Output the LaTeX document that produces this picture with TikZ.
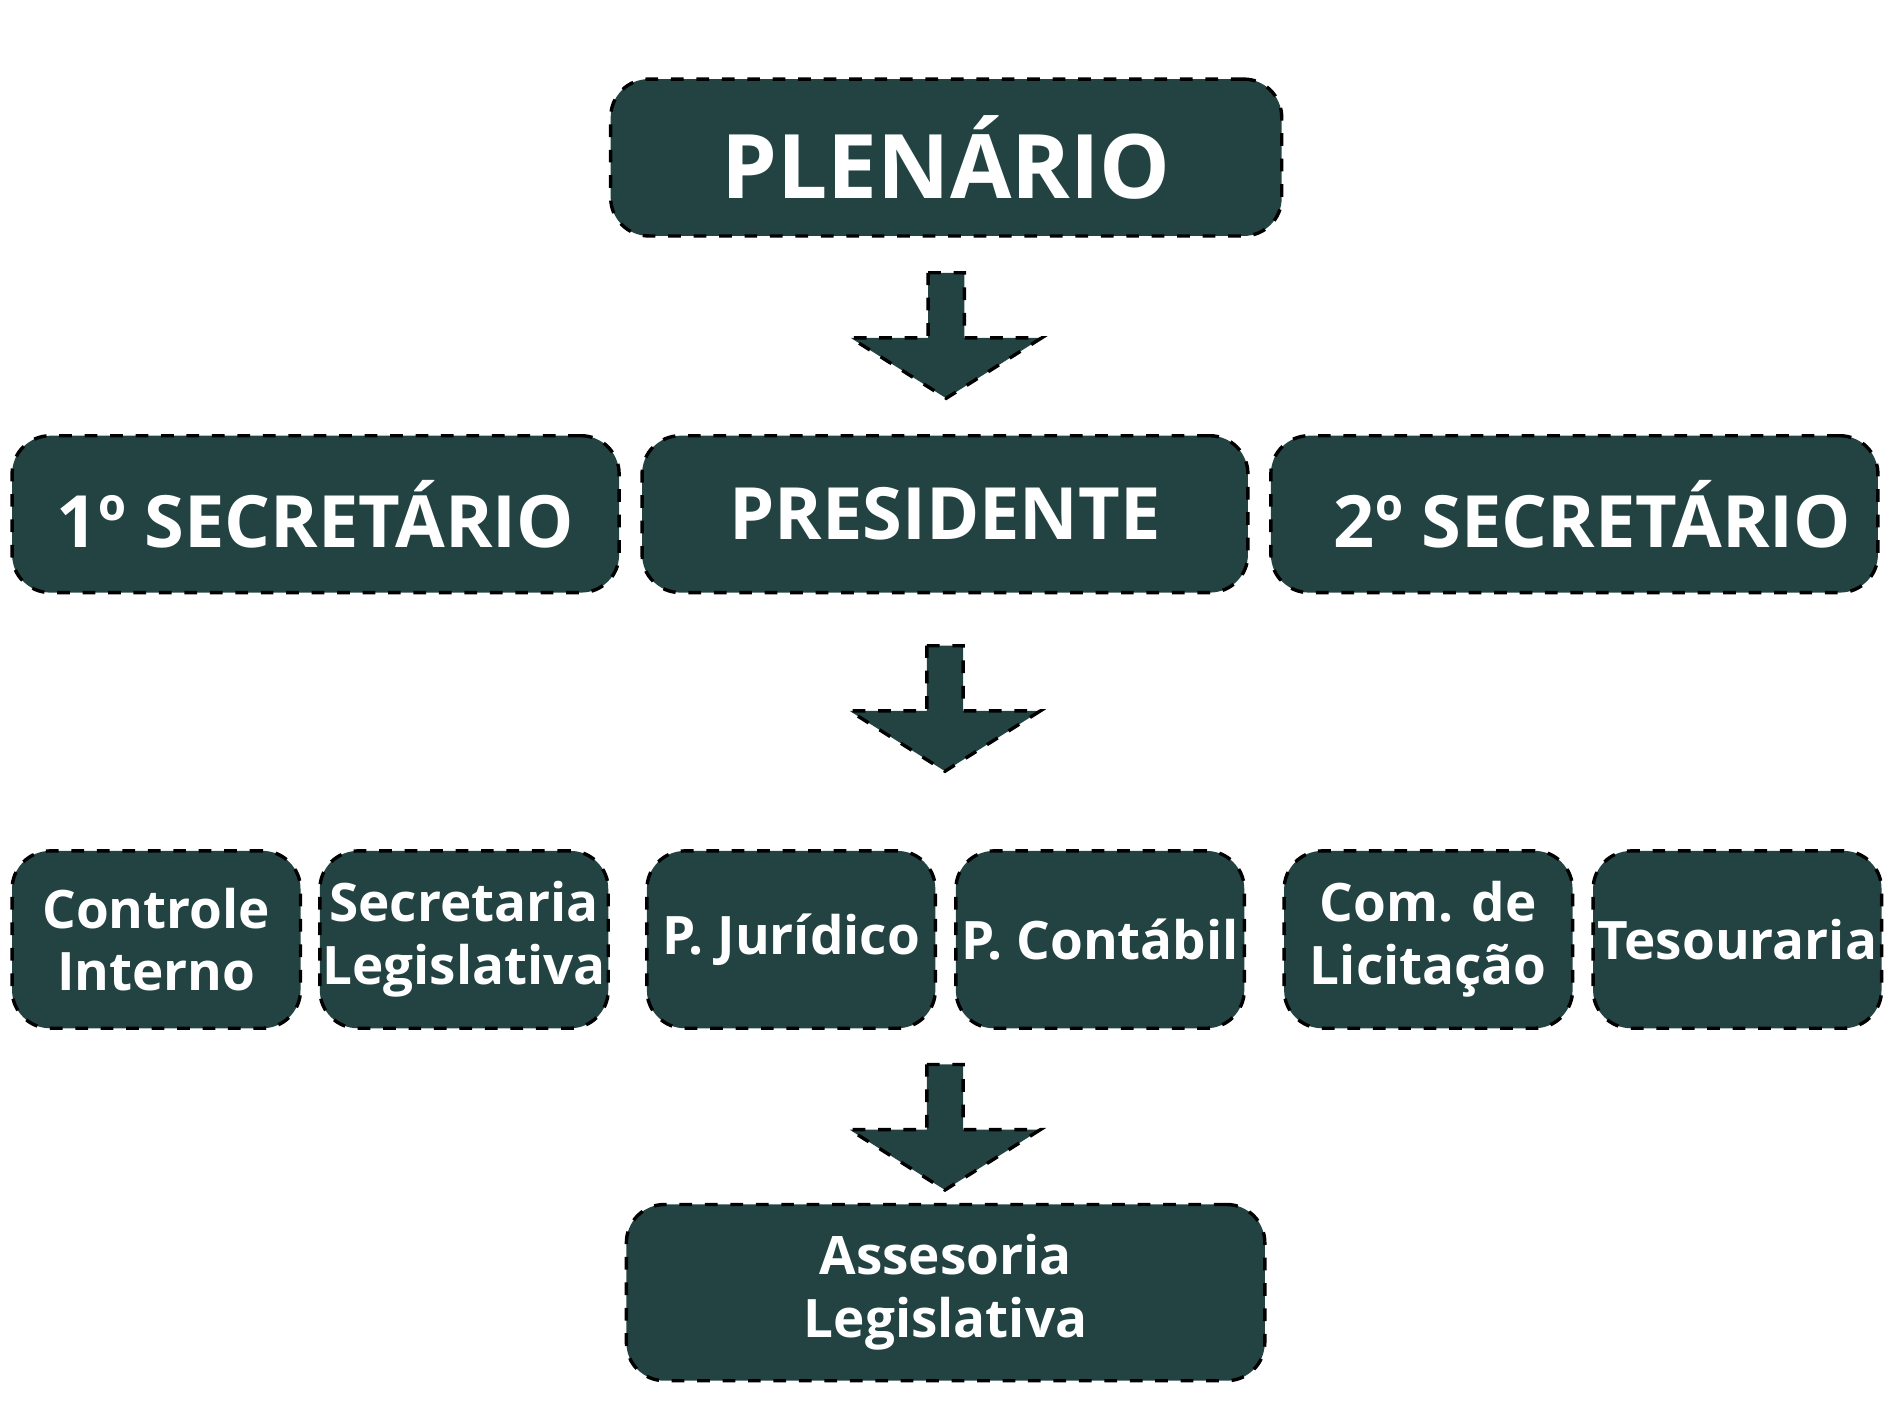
\documentclass[tikz,border=0pt]{standalone}
\usepackage{fontspec}
\setmainfont{Open Sans}
\usepackage{tikz}
\definecolor{darkteal}{HTML}{234343}
\tikzset{
  box/.style={draw=black,thick,dashed,fill=darkteal,rounded corners=9pt,text=white,font=\bfseries,align=center,inner sep=0pt},
  bigbox/.style={box,minimum height=1.3cm,font=\bfseries\fontsize{17}{20}\selectfont},
  smallbox/.style={box,minimum width=2.39cm,minimum height=1.47cm,font=\bfseries\fontsize{12.5}{14.8}\selectfont},
  blockarrow/.style={draw=black,thick,dashed,fill=darkteal}
}
\newcommand{\downarrowat}[2]{% x, top y
  \draw[blockarrow] (#1-0.15,#2) -- (#1+0.15,#2) -- (#1+0.15,#2-0.54) -- (#1+0.79,#2-0.54)
    -- (#1,#2-1.04) -- (#1-0.79,#2-0.54) -- (#1-0.15,#2-0.54) -- cycle;}
\begin{document}
\begin{tikzpicture}
\useasboundingbox (0,0) rectangle (15.66,-11.74);
% top
\node[bigbox,minimum width=5.56cm,font=\bfseries\fontsize{21}{24}\selectfont] (plenario) at (7.84,-1.305) {PLENÁRIO};
\downarrowat{7.84}{-2.26}
% second row
\node[bigbox,minimum width=5.03cm] (sec1) at (2.615,-4.26) {1º SECRETÁRIO};
\node[bigbox,minimum width=5.02cm] (presidente) at (7.83,-4.26) {PRESIDENTE};
\node[bigbox,minimum width=5.03cm] (sec2) at (13.045,-4.26) {\hspace{0.3cm}2º SECRETÁRIO};
\downarrowat{7.83}{-5.35}
% third row
\node[smallbox] (controle) at (1.295,-7.785) {Controle\\Interno};
\node[smallbox] (seclegis) at (3.845,-7.785) {Secretaria\\Legislativa};
\node[smallbox] (juridico) at (6.555,-7.785) {P. Jurídico};
\node[smallbox] (contabil) at (9.115,-7.785) {P. Contábil};
\node[smallbox] (licitacao) at (11.835,-7.785) {Com. de\\Licitação};
\node[smallbox] (tesouraria) at (14.395,-7.785) {Tesouraria};
\downarrowat{7.83}{-8.82}
% bottom
\node[smallbox,minimum width=5.29cm,minimum height=1.46cm] (assessoria) at (7.835,-10.71) {Assesoria\\Legislativa};
\end{tikzpicture}
\end{document}
